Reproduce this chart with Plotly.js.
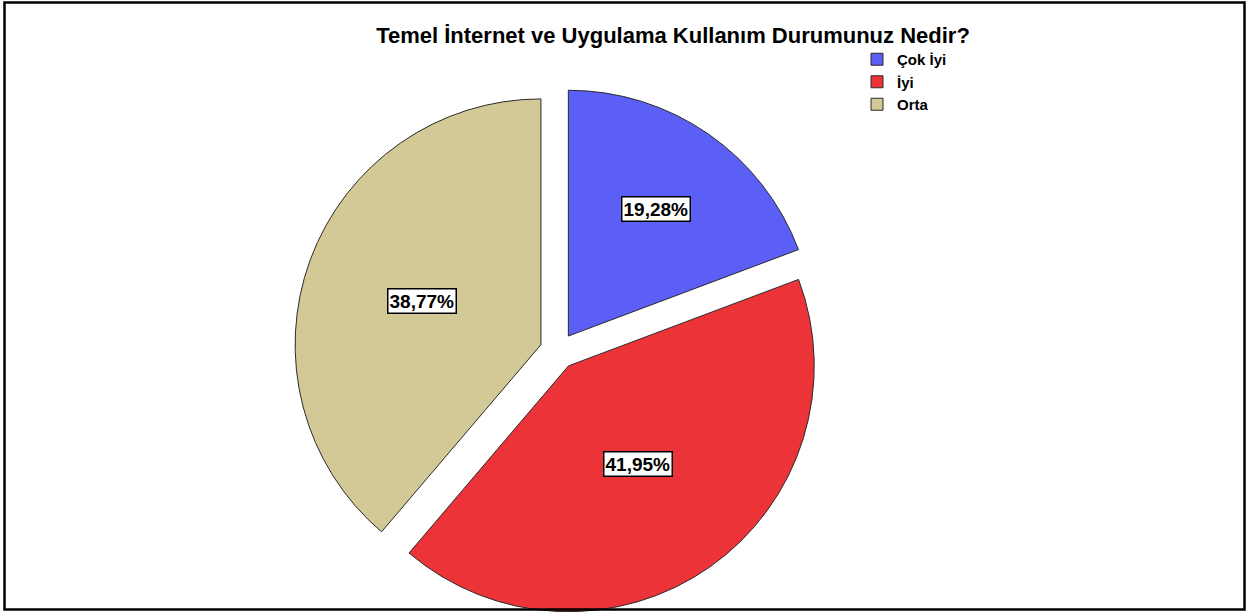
<!DOCTYPE html>
<html>
<head>
<meta charset="utf-8">
<script src="https://cdn.plot.ly/plotly-3.0.1.min.js"></script>
<style>
  html, body { margin: 0; padding: 0; background: #ffffff; }
  #chart { width: 1251px; height: 615px; }
</style>
</head>
<body>
<div id="chart"></div>
<script>
// ---- Data ----
const chartTitle = 'Temel İnternet ve Uygulama Kullanım Durumunuz Nedir?';
const categories = ['Çok İyi', 'İyi', 'Orta'];
const percentages = [19.28, 41.95, 38.77];
const sliceColors = ['#5b5ff6', '#ec3338', '#d2c997'];

const W = 1251, H = 615;
const PULL = 0.074;
const FONT = 'Liberation Sans, Arial, Helvetica, sans-serif';

const labelTexts = percentages.map(p => p.toFixed(2).replace('.', ',') + '%');

const trace = {
  type: 'pie',
  labels: categories,
  values: percentages,
  sort: false,
  direction: 'clockwise',
  rotation: 0,
  pull: categories.map(() => PULL),
  textinfo: 'none',
  hoverinfo: 'label+percent',
  marker: { colors: sliceColors, line: { color: '#2a2a2a', width: 1 } },
  domain: { x: [294 / W, 822 / W], y: [0, 1 - 87 / H] }
};

const layout = {
  width: W,
  height: H,
  margin: { l: 0, r: 0, t: 0, b: 0 },
  paper_bgcolor: '#ffffff',
  plot_bgcolor: '#ffffff',
  title: {
    text: '<b>' + chartTitle + '</b>',
    font: { family: FONT, size: 22, color: '#000000' },
    xref: 'container', yref: 'container',
    x: 673 / W, y: 1 - 35 / H,
    xanchor: 'center', yanchor: 'middle'
  },
  showlegend: true,
  legend: {
    x: 857 / W, y: 1 - 43 / H,
    xanchor: 'left', yanchor: 'top',
    bgcolor: 'rgba(0,0,0,0)',
    font: { family: FONT, size: 15, color: '#000000', weight: 'bold' },
    traceorder: 'normal'
  },
  shapes: [{
    type: 'rect', xref: 'paper', yref: 'paper',
    x0: 4.5 / W, x1: 1244.5 / W, y0: 1 - 609.5 / H, y1: 1 - 2.5 / H,
    line: { color: '#000000', width: 2.5 }, fillcolor: 'rgba(0,0,0,0)', layer: 'above'
  }]
};

Plotly.newPlot('chart', [trace], layout, { displayModeBar: false, staticPlot: true }).then(gd => {
  const cd0 = gd.calcdata && gd.calcdata[0] && gd.calcdata[0][0];
  let cx, cy, r;
  if (cd0 && isFinite(cd0.cx) && isFinite(cd0.r)) {
    cx = cd0.cx; cy = cd0.cy; r = cd0.r;
  } else {
    const bw = (trace.domain.x[1] - trace.domain.x[0]) * W;
    const bh = (trace.domain.y[1] - trace.domain.y[0]) * H;
    r = Math.min(bw, bh) / (2 + 2 * PULL);
    cx = W * (trace.domain.x[0] + trace.domain.x[1]) / 2;
    cy = H * (1 - trace.domain.y[0]) - bh / 2;
  }
  const total = percentages.reduce((a, b) => a + b, 0);
  let cum = 0;
  const annotations = percentages.map((v, i) => {
    const frac = v / total;
    const half = Math.PI * frac;                 // half-angle of the sector
    const mid = 2 * Math.PI * (cum + frac / 2);  // clockwise from 12 o'clock
    cum += frac;
    // label at the centroid of the (pulled) sector
    const dist = PULL * r + (2 * r * Math.sin(half)) / (3 * half);
    const px = cx + dist * Math.sin(mid);
    const py = cy - dist * Math.cos(mid);
    return {
      xref: 'paper', yref: 'paper',
      x: px / W, y: 1 - py / H,
      xanchor: 'center', yanchor: 'middle',
      text: '<b>' + labelTexts[i] + '</b>',
      showarrow: false,
      font: { family: FONT, size: 19, color: '#000000' },
      bgcolor: '#ffffff',
      bordercolor: '#000000',
      borderwidth: 1.5,
      borderpad: 1
    };
  });
  return Plotly.relayout(gd, { annotations: annotations });
});
</script>
</body>
</html>
